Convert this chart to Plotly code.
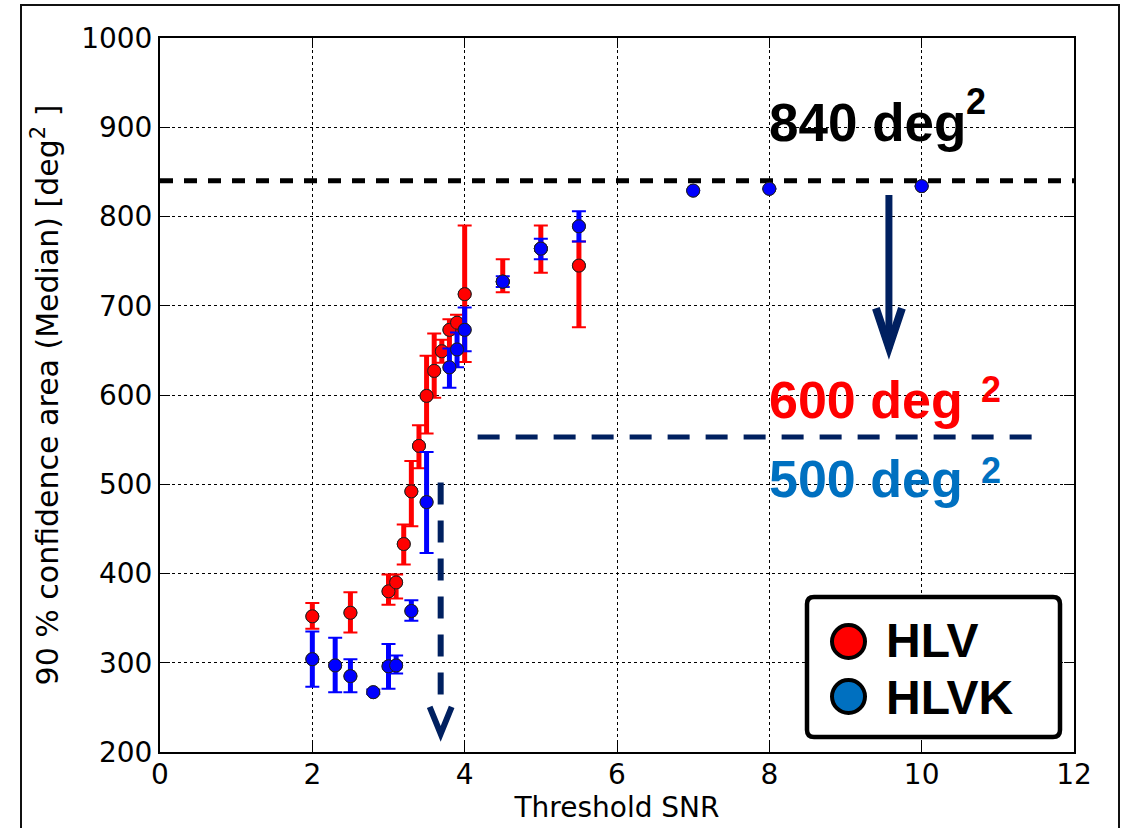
import plotly.graph_objects as go

# ---------------- data ----------------
hlv_x  = [2.0, 2.5, 3.0, 3.1, 3.2, 3.3, 3.4, 3.5, 3.6, 3.7, 3.8, 3.9, 4.0, 4.5, 5.0, 5.5]
hlv_y  = [352, 356, 380, 390, 433, 492, 543, 599, 627, 649, 673, 681, 713, 727, 764, 745]
hlv_hi = [367, 379, 399, 399, 455, 526, 566, 644, 669, 662, 685, 690, 790, 752, 790, 772]
hlv_lo = [338, 334, 365, 372, 410, 453, 518, 557, 597, 636, 650, 668, 637, 715, 737, 676]

hlvk_x  = [2.0, 2.3, 2.5, 2.8, 3.0, 3.1, 3.3, 3.5, 3.8, 3.9, 4.0, 4.5, 5.0, 5.5, 7.0, 8.0, 10.0]
hlvk_y  = [304, 297, 285, 267, 296, 297, 358, 480, 631, 651, 673, 727, 764, 789, 829, 831, 834]
hlvk_hi = [335, 328, 304, 270, 321, 308, 370, 536, 652, 670, 698, 733, 775, 806, None, None, None]
hlvk_lo = [273, 267, 267, 265, 271, 288, 347, 423, 608, 631, 649, 721, 752, 772, None, None, None]

x_ticks = [0, 2, 4, 6, 8, 10, 12]
y_ticks = [200, 300, 400, 500, 600, 700, 800, 900, 1000]

series_names = ["HLV", "HLVK"]
ref_area = 840          # horizontal reference level (deg^2)
hlv_target = 600
hlvk_target = 500

# ---------------- layout constants ----------------
W, H = 1122, 828
L, R, T, B = 160, 48, 38, 76
PW, PH = W - L - R, H - T - B

def pxp(xp):  # pixel x -> paper
    return (xp - L) / PW

def pyp(yp):  # pixel y -> paper
    return (H - B - yp) / PH

RED = "#FF0000"
BLUE = "#0000FF"
LEG_BLUE = "#0070C0"
NAVY = "#002060"
FONT = "DejaVu Sans"
BOLD = "Liberation Sans"

fig = go.Figure()

def err(vals, ref, upper):
    out = []
    for v, r in zip(vals, ref):
        if v is None:
            out.append(None)
        else:
            out.append(v - r if upper else r - v)
    return out

def add_series(x, y, lo, hi, color):
    plus = err(hi, y, True)
    minus = err(lo, y, False)
    marker = dict(size=13, color=color, line=dict(color="#202020", width=1))
    # thick stems
    fig.add_trace(go.Scatter(
        x=x, y=y, mode="markers", marker=marker, showlegend=False, hoverinfo="skip",
        error_y=dict(type="data", symmetric=False, array=plus, arrayminus=minus,
                     color=color, thickness=5, width=0)))
    # thin caps
    fig.add_trace(go.Scatter(
        x=x, y=y, mode="markers", marker=marker, showlegend=False, hoverinfo="skip",
        error_y=dict(type="data", symmetric=False, array=plus, arrayminus=minus,
                     color=color, thickness=2, width=7)))

add_series(hlv_x, hlv_y, hlv_lo, hlv_hi, RED)
add_series(hlvk_x, hlvk_y, hlvk_lo, hlvk_hi, BLUE)

shapes = []
# 840 deg^2 black dashed reference
shapes.append(dict(type="line", xref="x", yref="y", x0=0, x1=12, y0=ref_area, y1=ref_area,
                   line=dict(color="black", width=5, dash="13px,11px"), layer="between"))
# navy horizontal dashed
shapes.append(dict(type="line", xref="x", yref="y", x0=4.17, x1=11.5, y0=553, y1=553,
                   line=dict(color=NAVY, width=5, dash="22px,16px")))
# navy vertical dashed arrow
shapes.append(dict(type="line", xref="x", yref="y", x0=3.685, x1=3.685, y0=502, y1=255,
                   line=dict(color=NAVY, width=6, dash="22px,16px")))
shapes.append(dict(type="path", xref="x", yref="y", xsizemode="pixel", ysizemode="pixel",
                   xanchor=3.685, yanchor=217, path="M-11,30 L0,3 L11,30",
                   line=dict(color=NAVY, width=6)))
# solid navy arrow
shapes.append(dict(type="line", xref="x", yref="y", x0=9.57, x1=9.57, y0=824, y1=652,
                   line=dict(color=NAVY, width=7)))
shapes.append(dict(type="path", xref="x", yref="y", xsizemode="pixel", ysizemode="pixel",
                   xanchor=9.57, yanchor=648, path="M-13,44 L0,5 L13,44",
                   line=dict(color=NAVY, width=8)))

# legend box (rounded)
lw, lh, r = 253, 140, 7
box = (f"M{r},0 H{lw - r} Q{lw},0 {lw},{-r} V{-(lh - r)} Q{lw},{-lh} {lw - r},{-lh} "
       f"H{r} Q0,{-lh} 0,{-(lh - r)} V{-r} Q0,0 {r},0 Z")
shapes.append(dict(type="path", xref="paper", yref="paper", xsizemode="pixel", ysizemode="pixel",
                   xanchor=pxp(807), yanchor=pyp(597), path=box,
                   line=dict(color="black", width=4.5), fillcolor="white"))
for cy, col in [(641.5, RED), (696.5, LEG_BLUE)]:
    shapes.append(dict(type="circle", xref="paper", yref="paper", xsizemode="pixel", ysizemode="pixel",
                       xanchor=pxp(848.5), yanchor=pyp(cy), x0=-16.5, x1=16.5, y0=-16.5, y1=16.5,
                       line=dict(color="black", width=4), fillcolor=col))
# outer frame
shapes.append(dict(type="rect", xref="paper", yref="paper",
                   x0=pxp(21), x1=pxp(1119), y0=pyp(835), y1=pyp(5),
                   line=dict(color="#111111", width=2), fillcolor="rgba(0,0,0,0)"))

annotations = []
def txt(x, y, s, size, color, anchor="left"):
    annotations.append(dict(xref="paper", yref="paper", x=pxp(x), y=pyp(y), text=s,
                            showarrow=False, xanchor=anchor, yanchor="middle",
                            font=dict(family=BOLD, size=size, color=color)))

txt(767, 122, f"<b>{ref_area} deg</b>", 53, "black")
txt(964, 101, "<b>2</b>", 36, "black")
txt(767, 400, f"<b>{hlv_target} deg</b>", 52, RED)
txt(979, 389, "<b>2</b>", 36, RED)
txt(767, 479, f"<b>{hlvk_target} deg</b>", 52, LEG_BLUE)
txt(979, 470, "<b>2</b>", 36, LEG_BLUE)
txt(884, 640, f"<b>{series_names[0]}</b>", 48, "black")
txt(884, 697, f"<b>{series_names[1]}</b>", 48, "black")

axis_common = dict(showline=True, linecolor="black", linewidth=2, mirror="ticks",
                   ticks="inside", ticklen=10, tickwidth=1, tickcolor="black",
                   showgrid=True, gridcolor="black", gridwidth=1, griddash="3px,3px",
                   zeroline=False, tickfont=dict(family=FONT, size=28, color="black"),
                   automargin=True)

fig.update_layout(
    width=W, height=H,
    margin=dict(l=L, r=R, t=T, b=B),
    paper_bgcolor="white", plot_bgcolor="white",
    xaxis=dict(range=[0, 12], tickvals=x_ticks, ticklabelstandoff=-4,
               title=dict(text="Threshold SNR", font=dict(family=FONT, size=28, color="black"), standoff=0),
               **axis_common),
    yaxis=dict(range=[200, 1000], tickvals=y_ticks,
               title=dict(text="90 % confidence area (Median) [deg<sup>2</sup> ]",
                          font=dict(family=FONT, size=30, color="black"), standoff=14),
               **axis_common),
    shapes=shapes, annotations=annotations, showlegend=False,
)

fig.write_html("out.html")
